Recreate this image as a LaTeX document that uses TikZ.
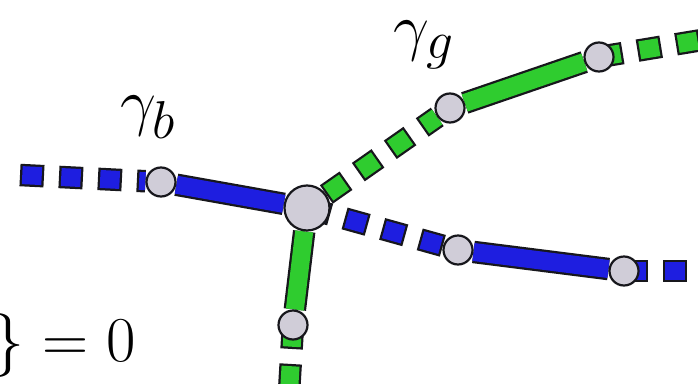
\documentclass[tikz,border=0pt]{standalone}
\usepackage{amsmath}
\usetikzlibrary{backgrounds}
\definecolor{ink}{HTML}{17171C}
\definecolor{wireblue}{HTML}{1E1EE0}
\definecolor{wiregreen}{HTML}{2FCC2F}
\definecolor{vfill}{HTML}{D0CDD8}
\tikzset{
  vtx/.style={
    circle, draw=ink, fill=vfill, line width=2.2pt,
    inner sep=0pt, minimum size=29pt
  },
  hub/.style={vtx, minimum size=45pt},
  wire/.style={
    line width=18pt, draw=#1,
    preaction={draw=ink, line width=22.5pt}
  },
  dashwire/.style={
    line width=18pt, draw=#1,
    dash pattern=on 19.5pt off 19.5pt, dash phase=36.75pt,
    preaction={draw=ink, line width=22.5pt, dash pattern=on 24pt off 15pt, dash phase=0pt}
  },
  lbl/.style={font=\Huge, inner sep=0pt, scale=2.57, transform shape}
}

\begin{document}
\begin{tikzpicture}[x=1pt, y=-1pt]
  \clip (0,0) rectangle (698,383);

  % vertices
  \node[hub] (c) at (307,208) {};
  \node[vtx] (b1) at (161,182) {};
  \node[vtx] (b2) at (458,250) {};
  \node[vtx] (b3) at (624,271) {};
  \node[vtx] (g1) at (450,108) {};
  \node[vtx] (g2) at (599,57) {};
  \node[vtx] (g3) at (293,325) {};

  % open ends
  \coordinate (bl) at (20,175);
  \coordinate (br) at (700,271);
  \coordinate (gr) at (702,40);
  \coordinate (gd) at (289,392);

  \node[lbl] (lb) at (148,117) {$\gamma_b$};
  \node[lbl] (lg) at (424,45) {$\gamma_g$};
  \node[lbl, anchor=base east] (eq) at (136,361) {$\} = 0$};

  \begin{scope}[on background layer]
    \draw[dashwire=wireblue] (bl) -- (b1);
    \draw[wire=wireblue] (b1) -- (c);
    \draw[dashwire=wireblue] (c.center) -- (b2);
    \draw[wire=wireblue] (b2) -- (b3);
    \draw[dashwire=wireblue] (b3.center) -- (br);
    \draw[dashwire=wiregreen] (c) -- (g1);
    \draw[wire=wiregreen] (g1) -- (g2);
    \draw[dashwire=wiregreen] (g2.center) -- (gr);
    \draw[wire=wiregreen] (c) -- (g3);
    \draw[dashwire=wiregreen] (g3.center) -- (gd);
  \end{scope}
\end{tikzpicture}
\end{document}
